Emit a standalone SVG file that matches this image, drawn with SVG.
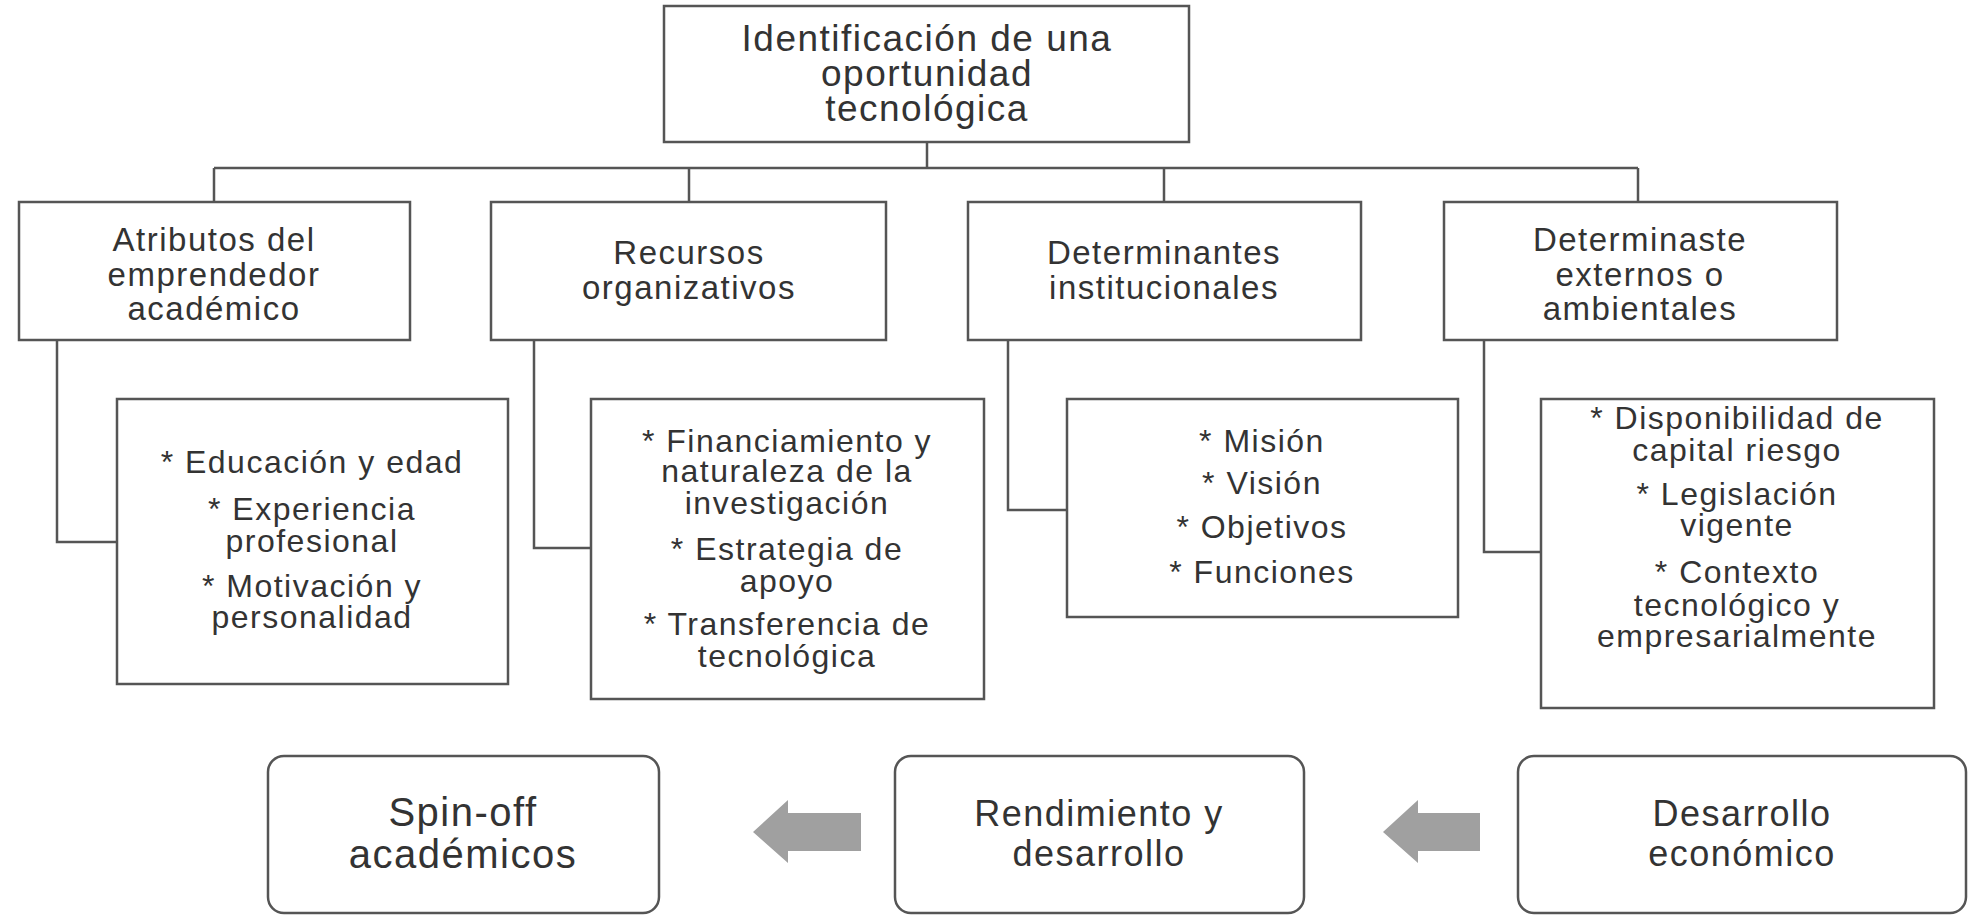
<svg xmlns="http://www.w3.org/2000/svg" width="1976" height="922" viewBox="0 0 1976 922">
<style>
.b{fill:#fff;stroke:#555;stroke-width:2.5}
.c{fill:none;stroke:#555;stroke-width:2.5}
text{font-family:"Liberation Sans",Arial,sans-serif;fill:#333;text-anchor:middle;letter-spacing:1.5px}
.t1{font-size:37px}
.t2{font-size:33px}
.t3{font-size:32px}
.t4{font-size:36px}
.ar{fill:#a0a0a0}
</style>
<rect width="1976" height="922" fill="#fff"/>
<g id="connectors">
<path class="c" d="M927 142V168M214 168H1638M214 168V202M689 168V202M1164 168V202M1638 168V202"/>
<path class="c" d="M57 340V542H117M534 340V548H591M1008 340V510H1067M1484 340V552H1541"/>
<polygon class="ar" points="753,832 788,800 788,813 861,813 861,851 788,851 788,863"/>
<polygon class="ar" points="1383,832 1418,800 1418,813 1480,813 1480,851 1418,851 1418,863"/>
</g>
<g id="top"><rect class="b" x="664" y="6" width="525" height="136"/>
<text class="t1" x="927" y="51">Identificación de una</text><text class="t1" x="927" y="86">oportunidad</text><text class="t1" x="927" y="121">tecnológica</text></g>
<g id="n1"><rect class="b" x="19" y="202" width="391" height="138"/>
<text class="t2" x="214" y="251">Atributos del</text><text class="t2" x="214" y="286">emprendedor</text><text class="t2" x="214" y="320">académico</text></g>
<g id="n2"><rect class="b" x="491" y="202" width="395" height="138"/>
<text class="t2" x="689" y="264">Recursos</text><text class="t2" x="689" y="299">organizativos</text></g>
<g id="n3"><rect class="b" x="968" y="202" width="393" height="138"/>
<text class="t2" x="1164" y="264">Determinantes</text><text class="t2" x="1164" y="299">institucionales</text></g>
<g id="n4"><rect class="b" x="1444" y="202" width="393" height="138"/>
<text class="t2" x="1640" y="251">Determinaste</text><text class="t2" x="1640" y="286">externos o</text><text class="t2" x="1640" y="320">ambientales</text></g>
<g id="d1"><rect class="b" x="117" y="399" width="391" height="285"/>
<text class="t3" x="312" y="473">* Educación y edad</text><text class="t3" x="312" y="520">* Experiencia</text><text class="t3" x="312" y="552">profesional</text><text class="t3" x="312" y="597">* Motivación y</text><text class="t3" x="312" y="628">personalidad</text></g>
<g id="d2"><rect class="b" x="591" y="399" width="393" height="300"/>
<text class="t3" x="787" y="452">* Financiamiento y</text><text class="t3" x="787" y="482">naturaleza  de la</text><text class="t3" x="787" y="514">investigación</text><text class="t3" x="787" y="560">* Estrategia de</text><text class="t3" x="787" y="592">apoyo</text><text class="t3" x="787" y="635">* Transferencia de</text><text class="t3" x="787" y="667">tecnológica</text></g>
<g id="d3"><rect class="b" x="1067" y="399" width="391" height="218"/>
<text class="t3" x="1262" y="452">* Misión</text><text class="t3" x="1262" y="494">* Visión</text><text class="t3" x="1262" y="538">* Objetivos</text><text class="t3" x="1262" y="583">* Funciones</text></g>
<g id="d4"><rect class="b" x="1541" y="399" width="393" height="309"/>
<text class="t3" x="1737" y="429">* Disponibilidad de</text><text class="t3" x="1737" y="461">capital riesgo</text><text class="t3" x="1737" y="505">* Legislación</text><text class="t3" x="1737" y="536">vigente</text><text class="t3" x="1737" y="583">* Contexto</text><text class="t3" x="1737" y="616">tecnológico y</text><text class="t3" x="1737" y="647">empresarialmente</text></g>
<g id="b1"><rect class="b" x="268" y="756" width="391" height="157" rx="16"/>
<text x="463" y="826" style="font-size:40px">Spin-off</text><text x="463" y="868" style="font-size:40px">académicos</text></g>
<g id="b2"><rect class="b" x="895" y="756" width="409" height="157" rx="16"/>
<text class="t4" x="1099" y="826">Rendimiento y</text><text class="t4" x="1099" y="866">desarrollo</text></g>
<g id="b3"><rect class="b" x="1518" y="756" width="448" height="157" rx="16"/>
<text class="t4" x="1742" y="826">Desarrollo</text><text class="t4" x="1742" y="866">económico</text></g>
</svg>
